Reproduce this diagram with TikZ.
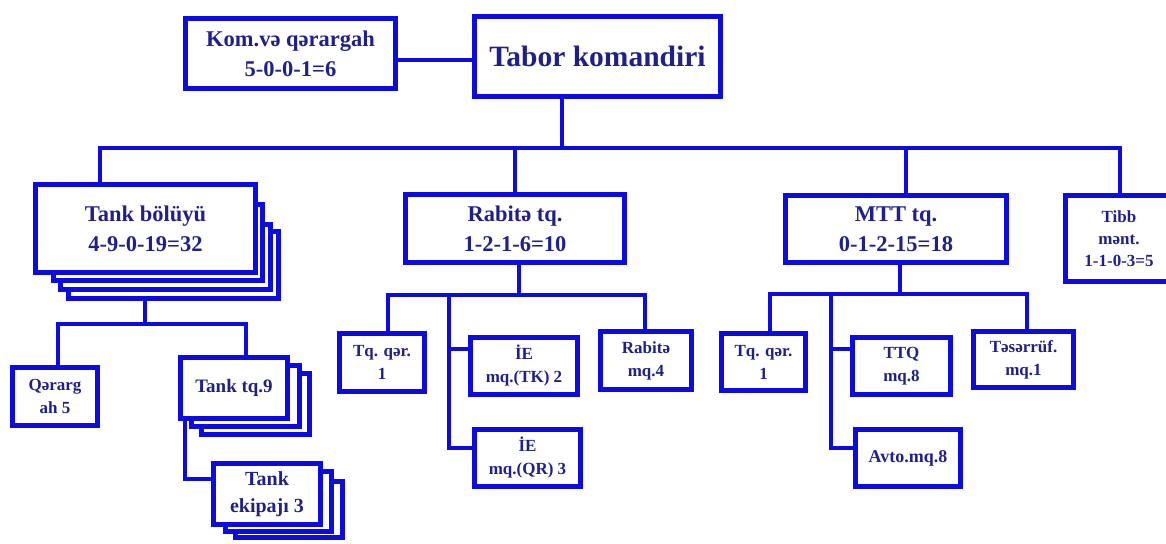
\documentclass[tikz,border=0pt]{standalone}
\usepackage{fontspec}
\setmainfont{Liberation Serif}
\definecolor{ln}{RGB}{12,12,225}
\definecolor{tx}{RGB}{32,32,140}
\tikzset{
  box/.style={draw=ln, line width=5pt, fill=white, text=tx, align=center, inner sep=0pt},
  big/.style={font=\bfseries\fontsize{22.5}{30}\selectfont},
  huge/.style={font=\bfseries\fontsize{29.5}{34}\selectfont},
  small/.style={font=\bfseries\fontsize{17}{23}\selectfont},
  mid/.style={font=\bfseries\fontsize{19}{24}\selectfont},
  conn/.style={draw=ln, line width=4pt},
  shadowbox/.style={draw=ln, line width=5pt, fill=white},
}
\begin{document}
\begin{tikzpicture}[x=1pt,y=-1pt]
\useasboundingbox (0,0) rectangle (1166,543);

% top level
\node[box, huge, minimum width=246pt, minimum height=80pt] (tabor) at (597.5,56.5) {Tabor komandiri};
\node[box, big, minimum width=210pt, minimum height=70pt] (kom) at (290.5,53.5) {Kom.və qərargah\\5-0-0-1=6};
\draw[conn] (kom.east |- 0,60) -- (tabor.west |- 0,60);

% Tank bölüyü with stack
\draw[shadowbox] (68.5,231.5) rectangle (278.5,298.5);
\draw[shadowbox] (60.5,224.5) rectangle (270.5,289.5);
\draw[shadowbox] (53.5,204.5) rectangle (262.5,280.5);
\node[box, big, minimum width=220pt, minimum height=88pt] (tank) at (145.5,228.5) {Tank bölüyü\\4-9-0-19=32};

\node[box, big, minimum width=219pt, minimum height=68pt] (rab) at (515,228.5) {Rabitə tq.\\1-2-1-6=10};
\node[box, big, minimum width=221pt, minimum height=67pt] (mtt) at (896,229) {MTT tq.\\0-1-2-15=18};
\node[box, font=\bfseries\fontsize{17}{22}\selectfont, minimum width=107pt, minimum height=86pt] (tibb) at (1119,238.5) {Tibb\\mənt.\\1-1-0-3=5};

% main bus
\coordinate (bL) at (100,148);
\coordinate (bR) at (1120,148);
\draw[conn] (tabor.south -| 562,0) -- (562,148);
\draw[conn] (tank.north -| bL) -- (bL) -- (bR) -- (tibb.north -| bR);
\draw[conn] (rab.north |- bL) -- (rab.north);
\draw[conn] (906,148) -- (mtt.north -| 906,0);

% Tank bölüyü children
\node[box, small, minimum width=85pt, minimum height=58pt] (qrg) at (55,396.5) {Qərarg\\ah 5};
\draw[shadowbox] (201.5,373.5) rectangle (309.5,434.5);
\draw[shadowbox] (191.5,365.5) rectangle (299.5,426.5);
\node[box, mid, minimum width=107pt, minimum height=61pt] (ttq9) at (234,388) {Tank tq.9};
\draw[shadowbox] (235.5,481.5) rectangle (342.5,537.5);
\draw[shadowbox] (225.5,471.5) rectangle (331.5,531.5);
\node[box, font=\bfseries\fontsize{20}{27}\selectfont, minimum width=107pt, minimum height=61pt] (ekip) at (267,494) {Tank\\ekipajı 3};

\coordinate (tb) at (145,324);
\draw[conn] (145,301) -- (tb);
\draw[conn] (qrg.north -| 58,0) -- (58,324) -- (246,324) -- (ttq9.north -| 246,0);
\draw[conn] (ttq9.south -| 185,0) -- (185,479) -- (ekip.west |- 0,479);

% Rabitə children
\node[box, small, minimum width=85pt, minimum height=58pt] (rtq) at (382,362.5) {Tq. qər.\\1};
\node[box, small, minimum width=107pt, minimum height=57pt] (ietk) at (524,366) {İE\\mq.(TK) 2};
\node[box, small, minimum width=106pt, minimum height=57pt] (ieqr) at (527.5,458) {İE\\mq.(QR) 3};
\node[box, small, minimum width=91pt, minimum height=58pt] (rmq) at (646,360.5) {Rabitə\\mq.4};
\draw[conn] (rab.south -| 519,0) -- (519,295);
\draw[conn] (rtq.north -| 388,0) -- (388,295) -- (645,295) -- (rmq.north -| 645,0);
\draw[conn] (449,295) -- (449,448) -- (ieqr.west |- 0,448);
\draw[conn] (449,349) -- (ietk.west |- 0,349);

% MTT children
\node[box, small, minimum width=84pt, minimum height=57pt] (mtq) at (763.5,362) {Tq. qər.\\1};
\node[box, small, minimum width=98pt, minimum height=57pt] (ttq) at (901.5,366) {TTQ\\mq.8};
\node[box, small, minimum width=100pt, minimum height=56pt] (tes) at (1023.5,359.5) {Təsərrüf.\\mq.1};
\node[box, font=\bfseries\fontsize{18}{23}\selectfont, minimum width=105pt, minimum height=57pt] (avto) at (908,458) {Avto.mq.8};
\draw[conn] (mtt.south -| 900,0) -- (900,294);
\draw[conn] (mtq.north -| 770,0) -- (770,294) -- (1027,294) -- (tes.north -| 1027,0);
\draw[conn] (831,294) -- (831,448) -- (avto.west |- 0,448);
\draw[conn] (831,349) -- (ttq.west |- 0,349);
\end{tikzpicture}
\end{document}
